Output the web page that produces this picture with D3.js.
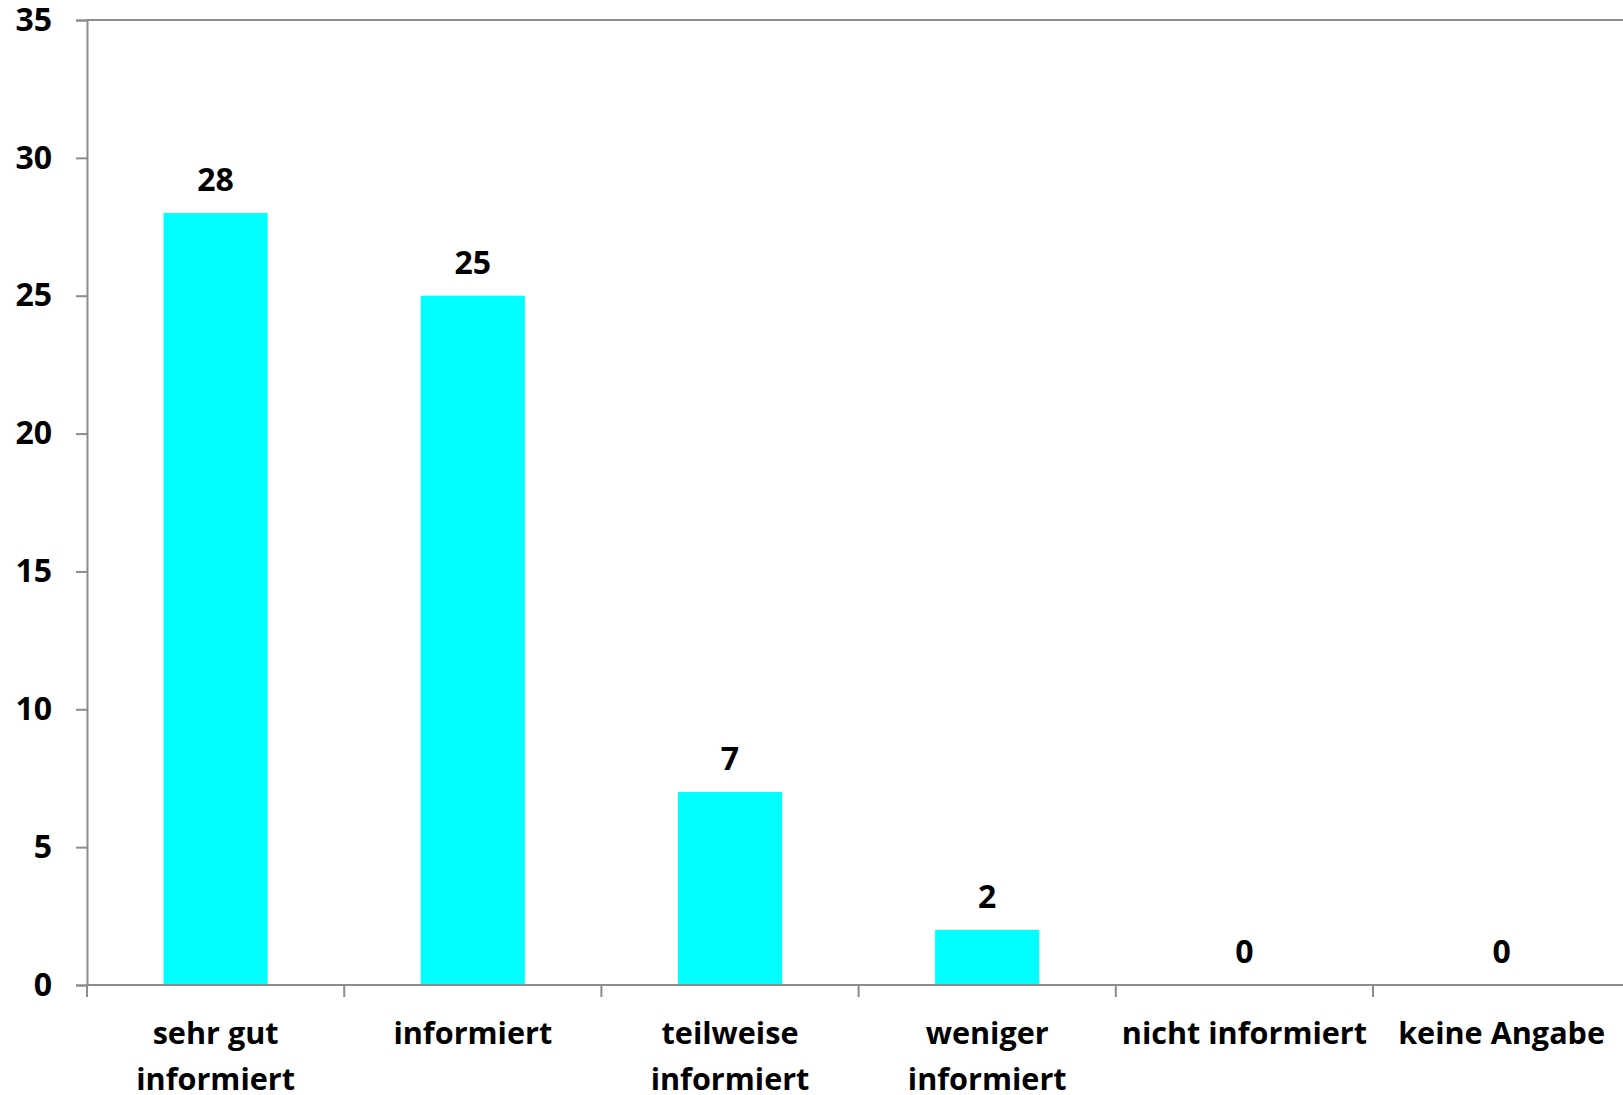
<!DOCTYPE html>
<html>
<head>
<meta charset="utf-8">
<script src="https://cdn.jsdelivr.net/npm/d3@7"></script>
<style>
  body { margin: 0; background: #fff; }
  text { font-family: "Open Sans", Lato, sans-serif; font-weight: bold; fill: #000; }
</style>
</head>
<body>
<svg width="1623" height="1095"></svg>
<script>
const categories = ["sehr gut\ninformiert", "informiert", "teilweise\ninformiert", "weniger\ninformiert", "nicht informiert", "keine Angabe"];
const values = [28, 25, 7, 2, 0, 0];
const yTicks = [0, 5, 10, 15, 20, 25, 30, 35];

const svg = d3.select("svg");
const axisColor = "#8c8c8c";

const x0 = 87, bandW = 257.2;
const xScale = d3.scaleBand()
  .domain(categories)
  .range([x0, x0 + bandW * categories.length])
  .padding(0);

const yScale = d3.scaleLinear()
  .domain([0, 35])
  .range([985, 20]);

const g = svg.append("g");

// top border of plot area
g.append("line")
  .attr("x1", x0).attr("x2", 1623)
  .attr("y1", yScale(35)).attr("y2", yScale(35))
  .attr("stroke", axisColor).attr("stroke-width", 2);

// y axis
const yAxis = d3.axisLeft(yScale)
  .tickValues(yTicks)
  .tickSize(11)
  .tickPadding(24);

const yAxisG = g.append("g")
  .attr("transform", `translate(${x0},0)`)
  .call(yAxis);
yAxisG.select(".domain").attr("stroke", axisColor).attr("stroke-width", 2);
yAxisG.selectAll(".tick line").attr("stroke", axisColor).attr("stroke-width", 2);
yAxisG.selectAll(".tick text")
  .style("font-size", "32px")
  .style("font-family", "'Open Sans', Lato, sans-serif")
  .style("font-weight", "bold")
  .attr("fill", "#000");

// bars
const barW = bandW * 0.405;
g.selectAll("rect.bar")
  .data(values)
  .enter()
  .append("rect")
  .attr("class", "bar")
  .attr("x", (d, i) => xScale(categories[i]) + bandW / 2 - barW / 2)
  .attr("y", d => yScale(d))
  .attr("width", barW)
  .attr("height", d => yScale(0) - yScale(d))
  .attr("fill", "#00ffff");

// value labels
g.selectAll("text.val")
  .data(values)
  .enter()
  .append("text")
  .attr("class", "val")
  .attr("x", (d, i) => xScale(categories[i]) + bandW / 2)
  .attr("y", d => yScale(d) - 33)
  .attr("dy", "0.35em")
  .attr("text-anchor", "middle")
  .style("font-size", "32px")
  .text(d => d);

// x axis
const xAxisG = g.append("g")
  .attr("transform", `translate(0,${yScale(0)})`);
xAxisG.append("line")
  .attr("x1", x0).attr("x2", 1623)
  .attr("stroke", axisColor).attr("stroke-width", 2);
xAxisG.selectAll("line.tick")
  .data(categories)
  .enter()
  .append("line")
  .attr("class", "tick")
  .attr("x1", d => xScale(d)).attr("x2", d => xScale(d))
  .attr("y1", 0).attr("y2", 12)
  .attr("stroke", axisColor).attr("stroke-width", 2);

const labels = xAxisG.selectAll("text.cat")
  .data(categories)
  .enter()
  .append("text")
  .attr("class", "cat")
  .attr("text-anchor", "middle")
  .style("font-size", "30.6px")
  .attr("transform", d => `translate(${xScale(d) + bandW / 2},48)`);

labels.selectAll("tspan")
  .data(d => d.split("\n"))
  .enter()
  .append("tspan")
  .attr("x", 0)
  .attr("y", (d, i) => i * 46)
  .attr("dy", "0.35em")
  .text(d => d);
</script>
</body>
</html>
